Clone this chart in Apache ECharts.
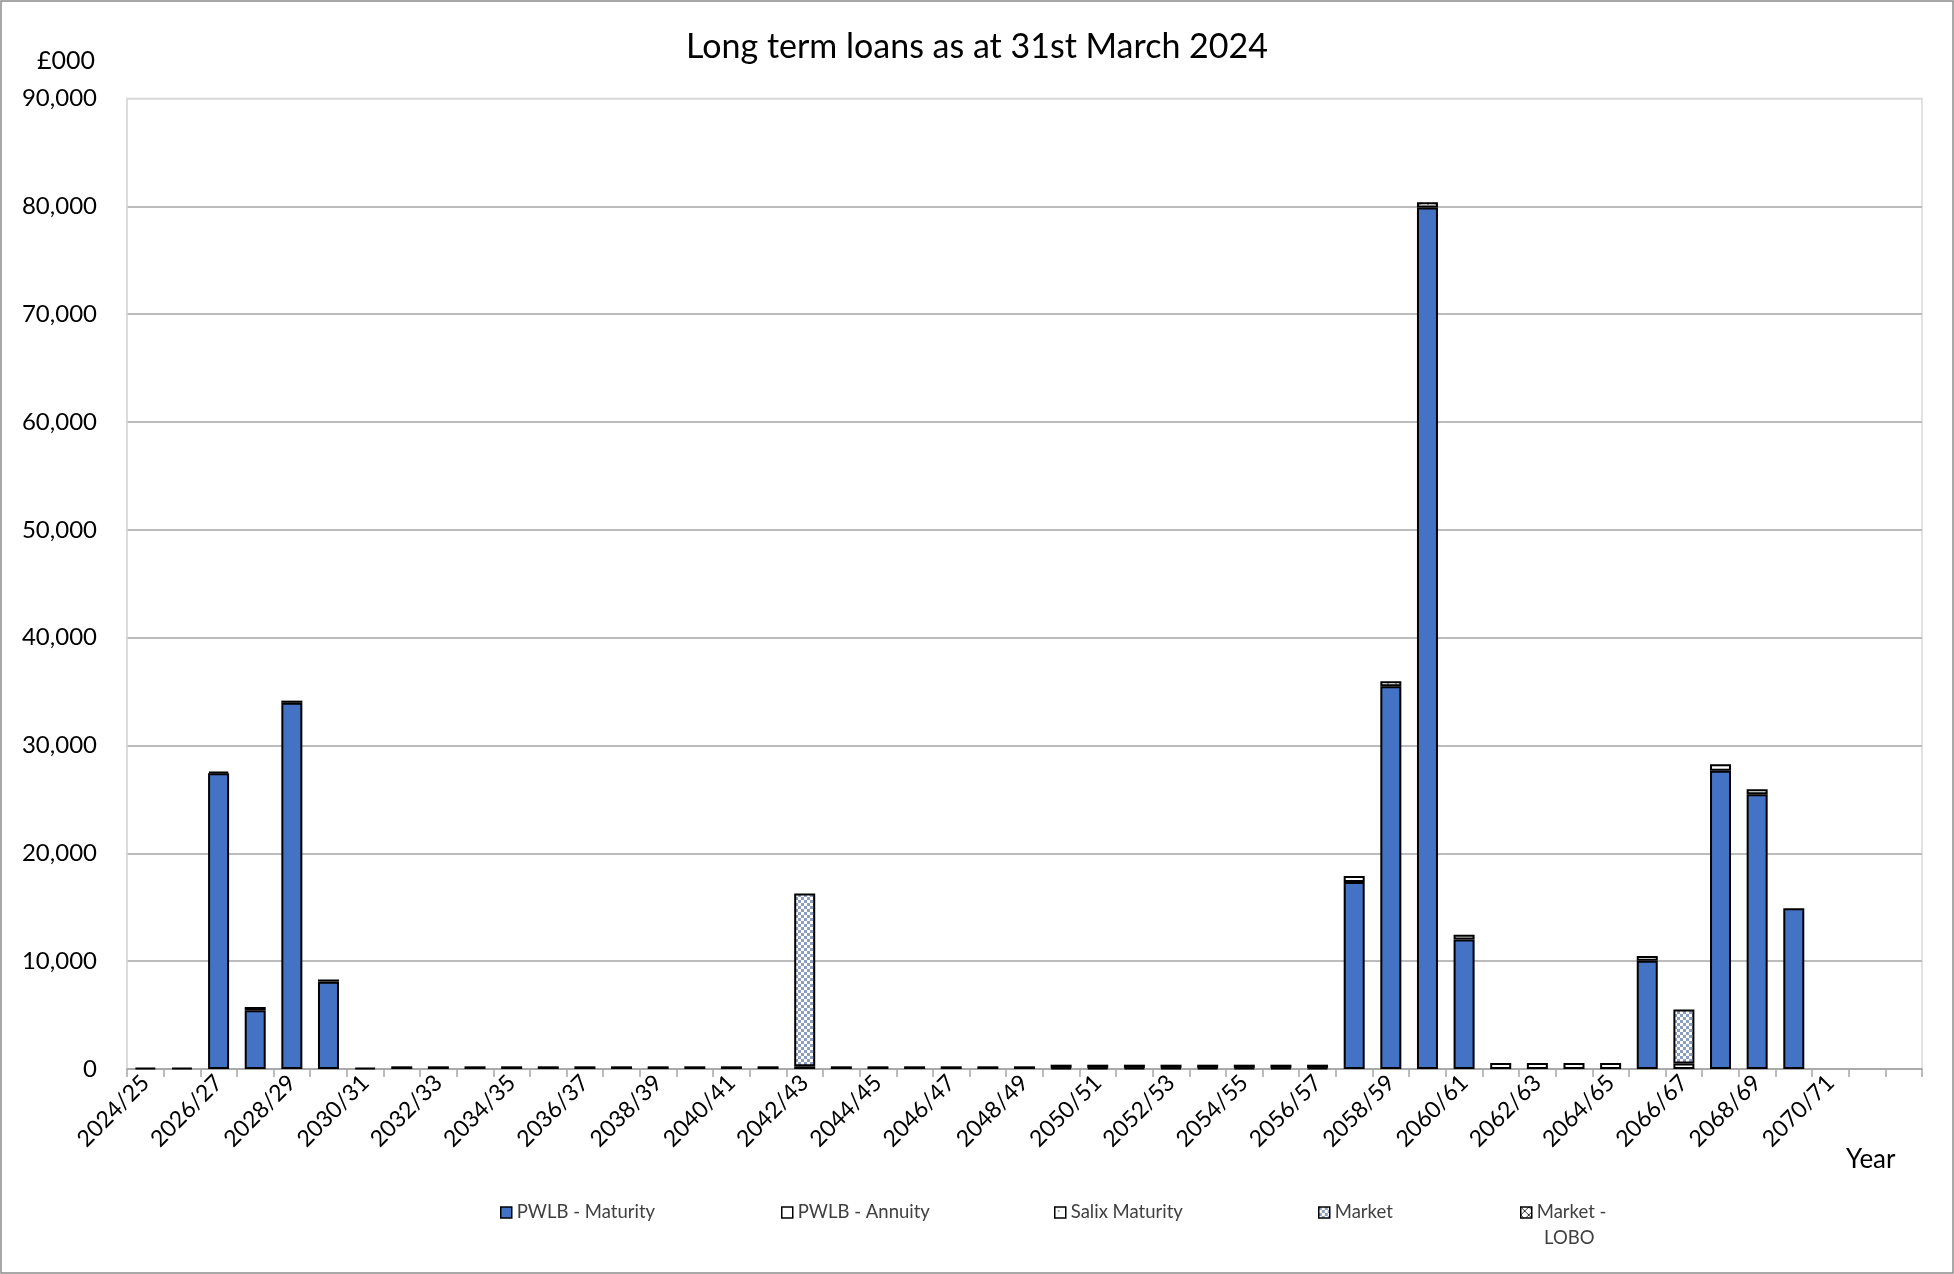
<!DOCTYPE html>
<html>
<head>
<meta charset="utf-8">
<script src="https://cdn.jsdelivr.net/npm/echarts@6/dist/echarts.min.js"></script>
<style>
html,body{margin:0;padding:0;background:#fff;}
#chart{width:1954px;height:1274px;}
</style>
</head>
<body>
<div id="chart"></div>
<script>
const years = ['2024/25','2025/26','2026/27','2027/28','2028/29','2029/30','2030/31','2031/32','2032/33','2033/34','2034/35','2035/36','2036/37','2037/38','2038/39','2039/40','2040/41','2041/42','2042/43','2043/44','2044/45','2045/46','2046/47','2047/48','2048/49','2049/50','2050/51','2051/52','2052/53','2053/54','2054/55','2055/56','2056/57','2057/58','2058/59','2059/60','2060/61','2061/62','2062/63','2063/64','2064/65','2065/66','2066/67','2067/68','2068/69','2069/70','2070/71','2071/72','2072/73'];

const pwlbMaturity = [null,null,27430,5450,33960,8100,null,null,null,null,null,null,null,null,null,null,null,null,null,null,null,null,null,null,null,null,null,null,null,null,null,null,null,17330,35500,79900,12000,null,null,null,null,10050,null,27650,25490,14900,null,null,null];

const pwlbAnnuity = [100,100,150,300,200,200,100,250,250,250,250,250,250,250,250,250,250,250,250,250,250,250,250,250,250,100,100,100,100,100,100,100,100,null,null,null,null,null,null,null,null,null,null,null,null,null,null,null,null];

const salixMaturity = [null,null,null,null,null,null,null,null,null,null,null,null,null,null,null,null,null,null,null,null,null,null,null,null,null,300,300,300,300,300,300,300,300,560,460,480,450,550,550,550,550,440,500,620,460,null,null,null,null];

const market = [null,null,null,null,null,null,null,null,null,null,null,null,null,null,null,null,null,null,16020,null,null,null,null,null,null,null,null,null,null,null,null,null,null,null,null,null,null,null,null,null,null,null,5020,null,null,null,null,null,null];

const marketLobo = [null,null,null,null,null,null,null,null,null,null,null,null,null,null,null,null,null,null,null,null,null,null,null,null,null,null,null,null,null,null,null,null,null,null,null,null,null,null,null,null,null,null,null,null,null,null,null,null,null];

const seriesNames = ['PWLB - Maturity','PWLB - Annuity','Salix Maturity','Market','Market - LOBO'];
const yTicks = [0,10000,20000,30000,40000,50000,60000,70000,80000,90000];

function makePattern(size, draw){
  const c = document.createElement('canvas');
  c.width = size; c.height = size;
  const g = c.getContext('2d');
  g.fillStyle = '#ffffff'; g.fillRect(0,0,size,size);
  draw(g);
  return {image: c, repeat: 'repeat'};
}
const checker = makePattern(6, g => { g.fillStyle='#8b9dc0'; g.fillRect(0,0,3,3); g.fillRect(3,3,3,3); });
const dots = makePattern(8, g => { g.fillStyle='#9aaac8'; g.fillRect(3,3,2,2); });
const cross = makePattern(8, g => { g.strokeStyle='#333'; g.lineWidth=1; g.beginPath(); g.moveTo(0,0); g.lineTo(8,8); g.moveTo(8,0); g.lineTo(0,8); g.stroke(); });

const fmt = v => String(v).replace(/\B(?=(\d{3})+(?!\d))/g, ',');
const FONT = 'Lato';

const fills = ['#4472c4', '#ffffff', dots, checker, cross];
const datas = [pwlbMaturity, pwlbAnnuity, salixMaturity, market, marketLobo];

const series = seriesNames.map((n,i) => ({
  name: n, type: 'bar', stack: 'loans', barWidth: 21,
  data: datas[i],
  itemStyle: {color: fills[i], borderColor: '#000', borderWidth: 2},
  emphasis: {disabled: true}
}));

const legendX = [500, 781, 1054, 1318, 1520];
const legends = seriesNames.map((n,i) => ({
  data: [n], left: legendX[i], top: 1203, orient: 'horizontal', padding: 0,
  icon: 'rect', itemWidth: 11, itemHeight: 11, itemGap: 4,
  itemStyle: {borderColor: '#000', borderWidth: 1.5},
  formatter: n === 'Market - LOBO' ? 'Market -' : n,
  textStyle: {fontFamily: FONT, fontSize: 18.5, color: '#404040'},
  selectedMode: false
}));

const chart = echarts.init(document.getElementById('chart'), null, {renderer: 'canvas'});
chart.setOption({
  animation: false,
  backgroundColor: '#fff',
  title: {
    text: 'Long term loans as at 31st March 2024', left: 'center', top: 25,
    textStyle: {fontFamily: FONT, fontSize: 34, fontWeight: 'normal', color: '#000'}
  },
  legend: legends,
  grid: {left: 127, right: 32, top: 98.5, bottom: 205, show: true, borderColor: '#d9d9d9', borderWidth: 1.5, containLabel: false, outerBoundsMode: 'none'},
  xAxis: {
    type: 'category', data: years,
    axisLine: {lineStyle: {color: '#a6a6a6', width: 1.5}},
    axisTick: {show: true, interval: 0, length: 8, lineStyle: {color: '#a6a6a6', width: 1.5}},
    axisLabel: {interval: (idx) => idx % 2 === 0 && idx < years.length - 1, rotate: 45, fontFamily: FONT, fontSize: 23, color: '#000', margin: 10}
  },
  yAxis: {
    type: 'value', min: 0, max: 90000, interval: 10000,
    axisLine: {show: true, lineStyle: {color: '#d9d9d9', width: 1.5}},
    axisTick: {show: false},
    axisLabel: {fontFamily: FONT, fontSize: 24, color: '#000', margin: 30, formatter: v => yTicks.includes(v) ? fmt(v) : ''},
    splitLine: {lineStyle: {color: ['#a6a6a6','#a6a6a6','#a6a6a6','#a6a6a6','#a6a6a6','#a6a6a6','#a6a6a6','#a6a6a6','#a6a6a6','#d9d9d9'], width: 1.5}}
  },
  graphic: [
    {type: 'rect', shape: {x: 1, y: 1, width: 1952, height: 1272}, style: {fill: 'none', stroke: '#8c8c8c', lineWidth: 1.5}, silent: true, z: -1},
    {type: 'text', left: 37, top: 48, style: {text: '£000', fontFamily: FONT, fontSize: 25, fill: '#000'}},
    {type: 'text', left: 1846, top: 1147, style: {text: 'Year', fontFamily: FONT, fontSize: 26, fill: '#000'}},
    {type: 'text', left: 1544, top: 1229, style: {text: 'LOBO', fontFamily: FONT, fontSize: 18.5, fill: '#404040'}}
  ],
  series: series
});
</script>
</body>
</html>
